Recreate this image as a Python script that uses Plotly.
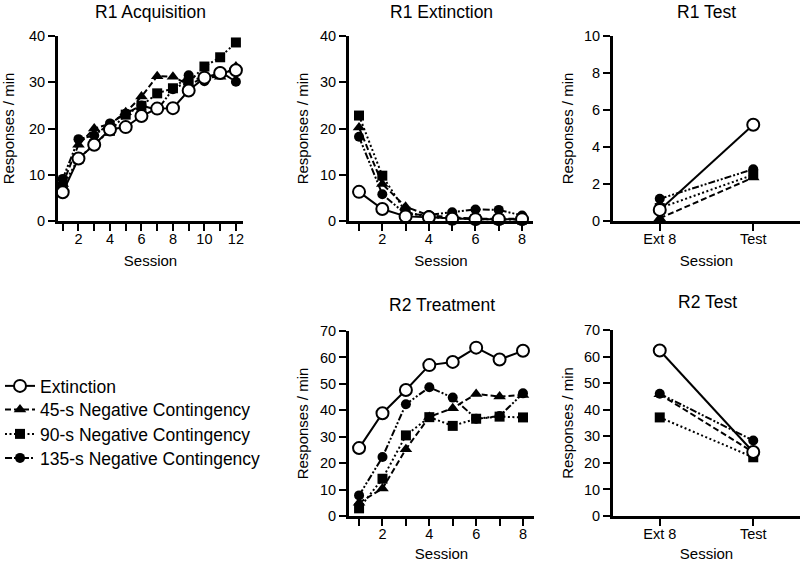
import plotly.graph_objects as go

# ---------------- data ----------------
groups = ["Extinction", "45-s Negative Contingency", "90-s Negative Contingency", "135-s Negative Contingency"]

acq_sessions = list(range(1, 13))
acq_ext = [6.2, 13.5, 16.5, 19.8, 20.3, 22.7, 24.3, 24.4, 28.2, 31.0, 32.0, 32.6]
acq_45 = [8.0, 16.5, 20.0, 21.0, 23.5, 26.9, 31.3, 31.2, 29.5, 31.0, 31.2, 33.4]
acq_90 = [7.5, 13.5, 16.6, 19.5, 23.0, 24.9, 27.6, 28.7, 30.0, 33.4, 35.4, 38.6]
acq_135 = [9.1, 17.7, 18.5, 21.1, 23.2, 25.0, 24.0, 28.5, 31.5, 30.2, 32.3, 30.1]

ext_sessions = list(range(1, 9))
r1ext_ext = [6.3, 2.6, 1.0, 0.8, 0.5, 0.4, 0.4, 0.4]
r1ext_45 = [20.2, 8.0, 3.1, 1.2, 0.8, 0.5, 0.5, 0.5]
r1ext_90 = [22.8, 9.8, 2.0, 0.8, 0.6, 0.4, 0.3, 0.3]
r1ext_135 = [18.2, 5.8, 1.5, 1.3, 1.9, 2.5, 2.4, 1.2]

test_labels = ["Ext 8", "Test"]
r1test_ext = [0.6, 5.2]
r1test_45 = [0.15, 2.35]
r1test_90 = [0.7, 2.5]
r1test_135 = [1.2, 2.8]

r2trt_ext = [25.7, 38.9, 47.7, 57.1, 58.3, 63.7, 59.2, 62.5]
r2trt_45 = [5.0, 10.4, 25.3, 37.5, 40.8, 46.2, 45.2, 45.8]
r2trt_90 = [2.9, 14.1, 30.5, 37.4, 34.1, 36.8, 37.6, 37.3]
r2trt_135 = [7.8, 22.3, 42.3, 48.7, 44.8, 36.8, 37.8, 46.4]

r2test_ext = [62.3, 24.1]
r2test_45 = [45.8, 24.0]
r2test_90 = [37.1, 22.1]
r2test_135 = [46.0, 28.4]

panel_titles = ["R1 Acquisition", "R1 Extinction", "R1 Test", "R2 Treatment", "R2 Test"]

# ---------------- styling ----------------
FONT = "Liberation Sans, Arial, sans-serif"
W, H = 800, 562

styles = [
    dict(symbol="circle", color="white", size=12, dash="solid"),
    dict(symbol="triangle-up", color="black", size=11, dash="6px,3px"),
    dict(symbol="square", color="black", size=10, dash="2px,2.5px"),
    dict(symbol="circle", color="black", size=10, dash="7px,2px,2px,2px,2px,2px"),
]

def px_x(p):
    return p / W

def px_y(p):
    return 1 - p / H

panels = [
    dict(x=(58, 243), y=(36, 221), xr=[0.7, 12.45], yr=[0, 40], yd=10, cat=False, ys=13,
         xs=acq_sessions, data=[acq_ext, acq_45, acq_90, acq_135]),
    dict(x=(349, 533), y=(36, 221), xr=[0.57, 8.47], yr=[0, 40], yd=10, cat=False, ys=8,
         xs=ext_sessions, data=[r1ext_ext, r1ext_45, r1ext_90, r1ext_135]),
    dict(x=(613, 800), y=(36, 221), xr=[-0.5, 1.5], yr=[0, 10], yd=2, cat=True, ys=7,
         xs=test_labels, data=[r1test_ext, r1test_45, r1test_90, r1test_135]),
    dict(x=(349, 534), y=(331, 516), xr=[0.57, 8.47], yr=[0, 70], yd=10, cat=False, ys=8,
         xs=ext_sessions, data=[r2trt_ext, r2trt_45, r2trt_90, r2trt_135]),
    dict(x=(613, 800), y=(330, 516), xr=[-0.5, 1.5], yr=[0, 70], yd=10, cat=True, ys=7,
         xs=test_labels, data=[r2test_ext, r2test_45, r2test_90, r2test_135]),
]

legend_names = ["legend", "legend2", "legend3", "legend4"]
legend_y = [386, 409.5, 434, 458]

fig = go.Figure()
layout = dict(
    template="none",
    width=W, height=H, margin=dict(l=0, r=0, t=0, b=0, pad=0, autoexpand=False),
    paper_bgcolor="white", plot_bgcolor="white",
    font=dict(family=FONT, color="black", size=15),
    showlegend=True,
)

draw_order = [3, 2, 1, 0]
for i, p in enumerate(panels):
    n = "" if i == 0 else str(i + 1)
    xa, ya = "x" + n, "y" + n
    for g in draw_order:
        st = styles[g]
        fig.add_trace(go.Scatter(
            x=p["xs"], y=p["data"][g], xaxis=xa, yaxis=ya,
            mode="lines+markers", name=groups[g],
            legend=legend_names[g], showlegend=(i == 0),
            cliponaxis=False,
            line=dict(color="black", width=2, dash=st["dash"]),
            marker=dict(symbol=st["symbol"], size=st["size"], color=st["color"],
                        line=dict(color="black", width=2 if g == 0 else 0)),
        ))
    common_ax = dict(showline=True, linecolor="black", linewidth=3, showgrid=False,
                     zeroline=False, ticks="outside", tickwidth=2, ticklen=7,
                     tickcolor="black", automargin=False,
                     tickfont=dict(family=FONT, size=14.5, color="black"))
    xax = dict(domain=[px_x(p["x"][0]), px_x(p["x"][1])], anchor=ya, range=p["xr"],
               ticklabelstandoff=-4,
               title=dict(text="Session", font=dict(family=FONT, size=15), standoff=10),
               **common_ax)
    if p["cat"]:
        xax.update(type="category")
    else:
        xax.update(tickmode="linear", tick0=2, dtick=2,
                   minor=dict(tickmode="linear", tick0=1, dtick=1, ticks="outside",
                              ticklen=7, tickwidth=2, tickcolor="black"))
    yax = dict(domain=[px_y(p["y"][1]), px_y(p["y"][0])], anchor=xa, range=p["yr"],
               tickmode="linear", tick0=0, dtick=p["yd"],
               title=dict(text="Responses / min", font=dict(family=FONT, size=15), standoff=p["ys"]),
               **common_ax)
    layout["xaxis" + n] = xax
    layout["yaxis" + n] = yax

title_pos = [(150.5, 12), (441, 12), (706.5, 12), (442, 305), (707, 302)]
annotations = []
for t, (cx, cy) in zip(panel_titles, title_pos):
    annotations.append(dict(text=t, x=px_x(cx), y=px_y(cy), xref="paper", yref="paper",
                            xanchor="center", yanchor="middle", showarrow=False,
                            font=dict(family=FONT, size=17.5, color="black")))
layout["annotations"] = annotations
for name, ly in zip(legend_names, legend_y):
    layout[name] = dict(x=0, y=px_y(ly), xanchor="left", yanchor="middle",
                        font=dict(family=FONT, size=17.5, color="black"),
                        itemwidth=30, bgcolor="rgba(0,0,0,0)", borderwidth=0)
fig.update_layout(**layout)
fig.write_html("out.html", config={"displayModeBar": False},
               post_script="document.body.style.margin='0px';document.body.style.overflow='hidden';")
